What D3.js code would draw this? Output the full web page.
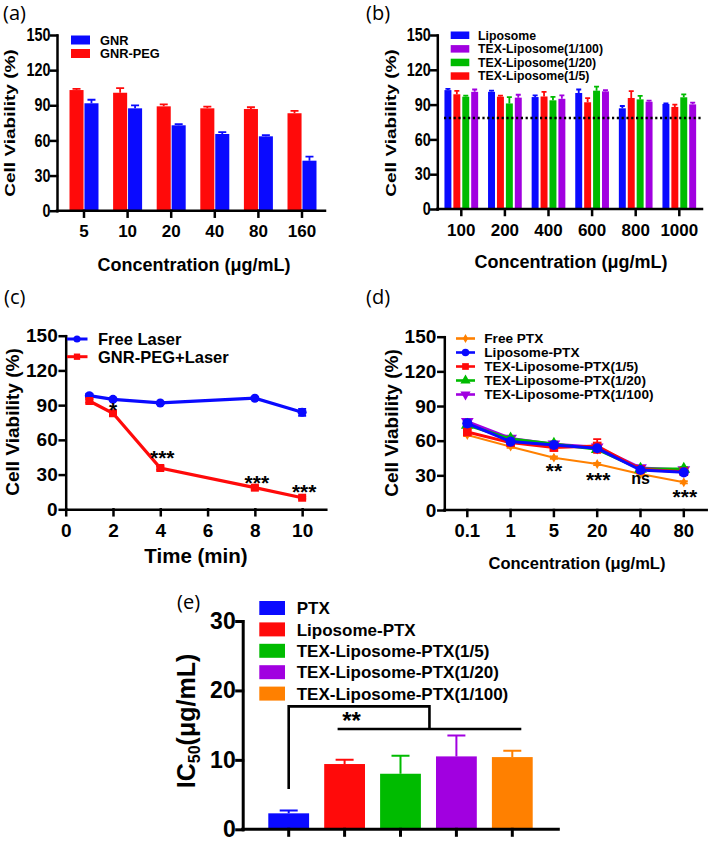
<!DOCTYPE html>
<html lang="en">
<head>
<meta charset="utf-8">
<title>Cell viability panels</title>
<script src="https://cdn.jsdelivr.net/npm/d3@7"></script>
<style>
  body { margin: 0; background: #fff; }
  svg text { font-family: "Liberation Sans", Arial, sans-serif; font-weight: bold; fill: #000; }
  svg text.panel { font-family: "Open Sans", sans-serif; font-weight: normal; }
</style>
</head>
<body>
<script>
// (a) GNR vs GNR-PEG
var concA = ["5", "10", "20", "40", "80", "160"];
var gnrPeg = [103, 100.7, 89.1, 87.4, 86.8, 83.2];
var gnrPegErr = [1, 4, 1.7, 1.5, 1.5, 2];
var gnr = [91.7, 87.4, 72.9, 65.5, 63.5, 42.7];
var gnrErr = [3, 2.5, 1, 1.5, 1, 3.4];

// (b) liposomes
var concB = ["100", "200", "400", "600", "800", "1000"];
var liposome = [102.5, 101, 96.5, 100, 86.8, 90.5];
var liposomeErr = [1, 1, 1.5, 3, 2, 0.5];
var texLip5 = [98.9, 96.8, 97, 92, 95.7, 88];
var texLip5Err = [3, 1, 4, 3.5, 6, 2];
var texLip20 = [96.8, 91, 93.7, 102, 94.5, 96.3];
var texLip20Err = [1, 5.5, 3, 3.5, 3, 2.5];
var texLip100 = [101, 96, 95, 101.4, 92.5, 90.2];
var texLip100Err = [2, 2.5, 3, 1, 1, 1.5];
var thresholdB = 78.4;

// (c) laser time course
var timeC = [1, 2, 4, 8, 10];
var freeLaser = [98.2, 95, 91.9, 96, 83.8];
var freeLaserErr = [1.5, 1, 1, 1, 3];
var gnrPegLaser = [93.6, 83, 35.7, 18.7, 10];
var gnrPegLaserErr = [1.5, 2, 1.5, 1.5, 1];
var sigC = [[2, 90.1, "*"], [4, 48.6, "***"], [8, 27.3, "***"], [10, 19, "***"]];

// (d) PTX formulations
var concD = ["0.1", "1", "5", "20", "40", "80"];
var freePtx = [64.9, 54.8, 45.3, 39.8, 31.2, 24];
var freePtxErr = [1, 1, 1, 1, 1, 1];
var liposomePtx = [75, 59.2, 56.3, 53.4, 34.6, 32.6];
var liposomePtxErr = [2.5, 2, 2, 2, 1.5, 1.5];
var texPtx5 = [67.5, 58.3, 54, 55.4, 35.2, 33.2];
var texPtx5Err = [2, 2, 2, 6, 1.5, 1.5];
var texPtx20 = [73.6, 61.5, 57.1, 52.5, 35.5, 35.5];
var texPtx20Err = [2, 2, 2, 2, 1.5, 1.5];
var texPtx100 = [76.5, 62, 57, 54.3, 36.4, 34.6];
var texPtx100Err = [2, 2, 2, 2, 1.5, 1.5];
var sigD = [["5", 38.3, "**"], ["20", 30.3, "***"], ["40", 26, "ns"], ["80", 15.8, "***"]];

// (e) IC50
var groupsE = ["PTX", "Liposome-PTX", "TEX-Liposome-PTX(1/5)", "TEX-Liposome-PTX(1/20)", "TEX-Liposome-PTX(1/100)"];
var ic50 = [2.3, 9.4, 8.0, 10.5, 10.4];
var ic50Err = [0.4, 0.6, 2.6, 3.0, 0.9];

var blue = "#0a0aff", red = "#ff0a0a", green = "#00bb00", purple = "#a100e0", orange = "#ff8000";

var w = 709, h = 841;
var svg = d3.select("body").append("svg").attr("width", w).attr("height", h);

function styleAxis(g, size, sw) {
  g.attr("font-size", size).attr("font-family", null);
  g.selectAll("path, line").attr("stroke", "#000").attr("stroke-width", sw).attr("stroke-linecap", "square");
}

function yTitle(x, y, txt, size, sx) {
  return svg.append("text")
    .attr("transform", "translate(" + x + "," + y + ") scale(" + sx + ",1) rotate(-90)")
    .attr("text-anchor", "middle")
    .attr("font-size", size)
    .text(txt);
}

function xTitle(x, y, txt, size) {
  svg.append("text").attr("x", x).attr("y", y).attr("text-anchor", "middle")
    .attr("font-size", size).text(txt);
}

function panelLabel(x, y, txt) {
  svg.append("text").attr("class", "panel").attr("x", x).attr("y", y)
    .attr("font-size", 20).text(txt);
}

// grouped bars with upward error bars
function groupedBars(xs, ys, series, gap, capW) {
  var sub = d3.scaleBand().domain(d3.range(series.length)).range([0, xs.bandwidth()]).paddingInner(gap);
  series.forEach(function(s, k) {
    var rows = xs.domain().map(function(c, i) { return {c: c, v: s.values[i], e: s.err[i]}; });
    svg.selectAll(null).data(rows).enter().append("rect")
      .attr("x", function(d) { return xs(d.c) + sub(k); })
      .attr("y", function(d) { return ys(d.v); })
      .attr("width", sub.bandwidth())
      .attr("height", function(d) { return ys(0) - ys(d.v); })
      .attr("fill", s.color);
    svg.selectAll(null).data(rows).enter().append("path")
      .attr("d", function(d) {
        var cx = xs(d.c) + sub(k) + sub.bandwidth() / 2;
        return "M" + cx + "," + ys(d.v) + "V" + ys(d.v + d.e) + "M" + (cx - capW / 2) + "," + ys(d.v + d.e) + "H" + (cx + capW / 2);
      })
      .attr("stroke", s.color).attr("stroke-width", 1.8).attr("fill", "none");
  });
}

function lineSeries(xf, ys, xs, vals, errs, color, sym, symSize, lw, flip) {
  var pts = vals.map(function(v, i) { return {x: xf(xs[i]), v: v, e: errs[i]}; });
  svg.append("path").datum(pts)
    .attr("d", d3.line().x(function(d) { return d.x; }).y(function(d) { return ys(d.v); }))
    .attr("fill", "none").attr("stroke", color).attr("stroke-width", lw);
  svg.selectAll(null).data(pts).enter().append("path")
    .attr("d", function(d) {
      var a = ys(d.v + d.e), b = ys(d.v - d.e);
      return "M" + d.x + "," + b + "V" + a + "M" + (d.x - 4) + "," + a + "H" + (d.x + 4) + "M" + (d.x - 4) + "," + b + "H" + (d.x + 4);
    })
    .attr("stroke", color).attr("stroke-width", 1.8).attr("fill", "none");
  svg.selectAll(null).data(pts).enter().append("path")
    .attr("d", d3.symbol().type(sym).size(symSize))
    .attr("transform", function(d) { return "translate(" + d.x + "," + ys(d.v) + ")" + (flip ? " rotate(180)" : ""); })
    .attr("fill", color);
}

function sigText(x, y, txt, size) {
  svg.append("text").attr("x", x).attr("y", y)
    .attr("dy", txt === "ns" ? "0.28em" : "0.57em")
    .attr("text-anchor", "middle").attr("font-size", txt === "ns" ? 16 : size).text(txt);
}

// ---------- (a) ----------
var xA = d3.scaleBand().domain(concA).range([62.2, 323.8]).paddingInner(0.335).paddingOuter(0.1675);
var yA = d3.scaleLinear().domain([0, 150]).range([210.7, 35]);
groupedBars(xA, yA, [
  {values: gnrPeg, err: gnrPegErr, color: red},
  {values: gnr, err: gnrErr, color: blue}
], 0.06, 8);
var gxA = svg.append("g").attr("transform", "translate(0," + yA(0) + ")")
  .call(d3.axisBottom(xA).tickSize(6).tickSizeOuter(0).tickPadding(8));
gxA.select(".domain").attr("d", "M57,0H325");
styleAxis(gxA, 17, 2.5);
var gyA = svg.append("g").attr("transform", "translate(57,0)")
  .call(d3.axisLeft(yA).tickValues([0, 30, 60, 90, 120, 150]).tickSize(6).tickSizeOuter(0).tickPadding(2));
styleAxis(gyA, 17.5, 2.5);
gyA.selectAll("text").attr("transform", "scale(0.82,1)");
yTitle(15, 123, "Cell Viability (%)", 19, 0.75);
xTitle(194, 271, "Concentration (\u03bcg/mL)", 18);
panelLabel(3, 20, "(a)");
[["GNR", blue], ["GNR-PEG", red]].forEach(function(d, i) {
  svg.append("rect").attr("x", 71).attr("y", 35.5 + i * 13.5).attr("width", 19).attr("height", 9).attr("fill", d[1]);
  svg.append("text").attr("x", 100).attr("y", 44.7 + i * 13.5).attr("font-size", 12.8).text(d[0]);
});

// ---------- (b) ----------
var xB = d3.scaleBand().domain(concB).range([439.5, 701.1]).paddingInner(0.227).paddingOuter(0.1135);
var yB = d3.scaleLinear().domain([0, 150]).range([209, 35]);
groupedBars(xB, yB, [
  {values: liposome, err: liposomeErr, color: blue},
  {values: texLip5, err: texLip5Err, color: red},
  {values: texLip20, err: texLip20Err, color: green},
  {values: texLip100, err: texLip100Err, color: purple}
], 0.22, 5);
svg.append("line").attr("x1", 444).attr("x2", 703).attr("y1", yB(thresholdB)).attr("y2", yB(thresholdB))
  .attr("stroke", "#000").attr("stroke-width", 2.5).attr("stroke-dasharray", "2.2,2.6");
var gxB = svg.append("g").attr("transform", "translate(0," + yB(0) + ")")
  .call(d3.axisBottom(xB).tickSize(6).tickSizeOuter(0).tickPadding(8.5));
gxB.select(".domain").attr("d", "M437.3,0H702");
styleAxis(gxB, 17, 2.5);
var gyB = svg.append("g").attr("transform", "translate(437.3,0)")
  .call(d3.axisLeft(yB).tickValues([0, 30, 60, 90, 120, 150]).tickSize(6).tickSizeOuter(0).tickPadding(2));
styleAxis(gyB, 17.5, 2.5);
gyB.selectAll("text").attr("transform", "scale(0.82,1)");
yTitle(396, 123, "Cell Viability (%)", 19, 0.75);
xTitle(571, 268, "Concentration (\u03bcg/mL)", 18);
panelLabel(366, 20, "(b)");
[["Liposome", blue], ["TEX-Liposome(1/100)", purple], ["TEX-Liposome(1/20)", green], ["TEX-Liposome(1/5)", red]].forEach(function(d, i) {
  svg.append("rect").attr("x", 450.7).attr("y", 31.5 + i * 13.6).attr("width", 18.6).attr("height", 7.5).attr("fill", d[1]);
  svg.append("text").attr("x", 478).attr("y", 39.5 + i * 13.6).attr("font-size", 12.3).text(d[0]);
});

// ---------- (c) ----------
var xC = d3.scaleLinear().domain([0, 11]).range([65.7, 325.8]);
var yC = d3.scaleLinear().domain([0, 150]).range([509.3, 335.7]);
lineSeries(xC, yC, timeC, freeLaser, freeLaserErr, blue, d3.symbolCircle, 64, 3.2, false);
lineSeries(xC, yC, timeC, gnrPegLaser, gnrPegLaserErr, red, d3.symbolSquare, 64, 3.2, false);
var gxC = svg.append("g").attr("transform", "translate(0," + yC(0) + ")")
  .call(d3.axisBottom(xC).tickValues([0, 2, 4, 6, 8, 10]).tickSize(6).tickSizeOuter(0).tickPadding(8));
styleAxis(gxC, 19, 2.5);
var gyC = svg.append("g").attr("transform", "translate(" + xC(0) + ",0)")
  .call(d3.axisLeft(yC).tickValues([0, 30, 60, 90, 120, 150]).tickSize(6).tickSizeOuter(0).tickPadding(2));
styleAxis(gyC, 19, 2.5);
yTitle(19, 422, "Cell Viability (%)", 19, 1);
xTitle(196, 563, "Time (min)", 20.5);
panelLabel(4, 304, "(c)");
sigC.forEach(function(d) { sigText(xC(d[0]) + (d[2] === "*" ? 0 : 2), yC(d[1]), d[2], 21); });
[["Free Laser", blue, d3.symbolCircle], ["GNR-PEG+Laser", red, d3.symbolSquare]].forEach(function(d, i) {
  var cy = 339 + i * 17.7;
  svg.append("line").attr("x1", 67).attr("x2", 87.5).attr("y1", cy).attr("y2", cy).attr("stroke", d[1]).attr("stroke-width", 3);
  svg.append("path").attr("d", d3.symbol().type(d[2]).size(40)).attr("transform", "translate(77," + cy + ")").attr("fill", d[1]);
  svg.append("text").attr("x", 98).attr("y", cy + 6).attr("font-size", 16.5).text(d[0]);
});

// ---------- (d) ----------
var xD = d3.scaleBand().domain(concD).range([445.65, 705.45]);
var yD = d3.scaleLinear().domain([0, 150]).range([510, 336.7]);
var cxD = function(c) { return xD(c) + xD.bandwidth() / 2; };
lineSeries(cxD, yD, concD, freePtx, freePtxErr, orange, d3.symbolDiamond, 28, 2, false);
lineSeries(cxD, yD, concD, texPtx100, texPtx100Err, purple, d3.symbolTriangle, 70, 3, true);
lineSeries(cxD, yD, concD, texPtx20, texPtx20Err, green, d3.symbolTriangle, 70, 3, false);
lineSeries(cxD, yD, concD, texPtx5, texPtx5Err, red, d3.symbolSquare, 75, 3, false);
lineSeries(cxD, yD, concD, liposomePtx, liposomePtxErr, blue, d3.symbolCircle, 80, 3, false);
var gxD = svg.append("g").attr("transform", "translate(0," + yD(0) + ")")
  .call(d3.axisBottom(xD).tickSize(6).tickSizeOuter(0).tickPadding(8));
gxD.select(".domain").attr("d", "M444.3,0H706.7");
styleAxis(gxD, 18.5, 2.5);
var gyD = svg.append("g").attr("transform", "translate(444.3,0)")
  .call(d3.axisLeft(yD).tickValues([0, 30, 60, 90, 120, 150]).tickSize(6).tickSizeOuter(0).tickPadding(2));
styleAxis(gyD, 19, 2.5);
yTitle(397.5, 423, "Cell Viability (%)", 19, 1);
xTitle(577, 569, "Concentration (\u03bcg/mL)", 16.5);
panelLabel(366, 304, "(d)");
sigD.forEach(function(d) { sigText(cxD(d[0]) + (d[2] === "***" ? 1 : 0), yD(d[1]), d[2], 21); });
[["Free PTX", orange, d3.symbolDiamond, 24, false], ["Liposome-PTX", blue, d3.symbolCircle, 45, false],
 ["TEX-Liposome-PTX(1/5)", red, d3.symbolSquare, 45, false], ["TEX-Liposome-PTX(1/20)", green, d3.symbolTriangle, 45, false],
 ["TEX-Liposome-PTX(1/100)", purple, d3.symbolTriangle, 45, true]].forEach(function(d, i) {
  var cy = 338.5 + i * 14;
  svg.append("line").attr("x1", 456).attr("x2", 475).attr("y1", cy).attr("y2", cy).attr("stroke", d[1]).attr("stroke-width", 2.6);
  svg.append("path").attr("d", d3.symbol().type(d[2]).size(d[3]))
    .attr("transform", "translate(465.5," + cy + ")" + (d[4] ? " rotate(180)" : "")).attr("fill", d[1]);
  svg.append("text").attr("x", 484.3).attr("y", cy + 4.8).attr("font-size", 13.6).text(d[0]);
});

// ---------- (e) ----------
var xE = d3.scaleBand().domain(groupsE).range([253.2, 547.8]).padding(0.27);
var yE = d3.scaleLinear().domain([0, 30]).range([829.3, 621]);
var colorsE = [blue, red, green, purple, orange];
var rowsE = groupsE.map(function(g, i) { return {g: g, v: ic50[i], e: ic50Err[i], c: colorsE[i]}; });
svg.selectAll(null).data(rowsE).enter().append("rect")
  .attr("x", function(d) { return xE(d.g); })
  .attr("y", function(d) { return yE(d.v); })
  .attr("width", xE.bandwidth())
  .attr("height", function(d) { return yE(0) - yE(d.v); })
  .attr("fill", function(d) { return d.c; });
svg.selectAll(null).data(rowsE).enter().append("path")
  .attr("d", function(d) {
    var cx = xE(d.g) + xE.bandwidth() / 2, t = yE(d.v + d.e);
    return "M" + cx + "," + yE(d.v) + "V" + t + "M" + (cx - 9) + "," + t + "H" + (cx + 9);
  })
  .attr("stroke", function(d) { return d.c; }).attr("stroke-width", 2).attr("fill", "none");
// significance bracket
var cE = function(i) { return xE(groupsE[i]) + xE.bandwidth() / 2; };
var lowL = cE(1) - 7, lowR = cE(4) + 9, mid = (lowL + lowR) / 2;
svg.append("path")
  .attr("d", "M" + cE(0) + "," + yE(5.8) + "V" + yE(17.7) + "H" + mid + "V" + yE(14.45) +
             "M" + lowL + "," + yE(14.45) + "H" + lowR)
  .attr("fill", "none").attr("stroke", "#000").attr("stroke-width", 2.6);
sigText(cE(1) + 7, yE(16.4), "**", 24);
var gxE = svg.append("g").attr("transform", "translate(0," + yE(0) + ")")
  .call(d3.axisBottom(xE).tickSize(6).tickSizeOuter(0).tickFormat(""));
gxE.select(".domain").attr("d", "M242.7,0H558.3");
styleAxis(gxE, 10, 3);
var gyE = svg.append("g").attr("transform", "translate(242.7,0)")
  .call(d3.axisLeft(yE).tickValues([0, 10, 20, 30]).tickSize(6).tickSizeOuter(0).tickPadding(1));
styleAxis(gyE, 23, 3);
var ic = svg.append("text").attr("transform", "translate(195,721) rotate(-90)")
  .attr("text-anchor", "middle").attr("font-size", 25);
ic.append("tspan").text("IC");
ic.append("tspan").attr("font-size", 16).attr("dy", 5).text("50");
ic.append("tspan").attr("dy", -5).text("(\u03bcg/mL)");
panelLabel(177, 609, "(e)");
groupsE.forEach(function(g, i) {
  var cy = 608 + i * 21.4;
  svg.append("rect").attr("x", 259.3).attr("y", cy - 7).attr("width", 25.7).attr("height", 14).attr("fill", colorsE[i]);
  svg.append("text").attr("x", 296.7).attr("y", cy + 6.2).attr("font-size", 17).text(g);
});
</script>
</body>
</html>
